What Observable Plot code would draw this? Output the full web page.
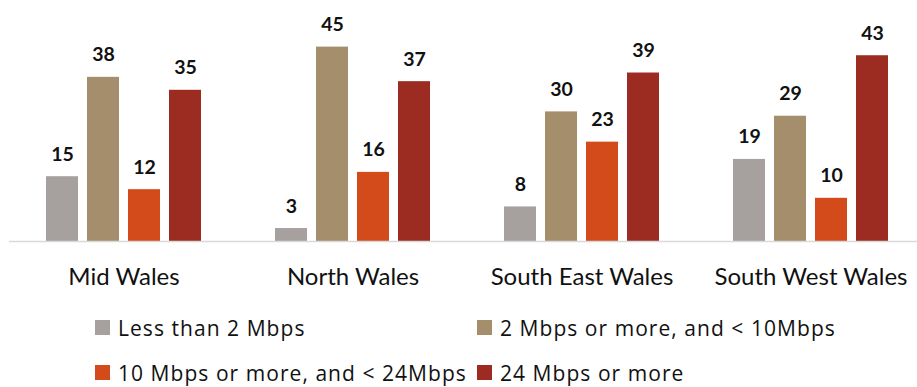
<!DOCTYPE html>
<html>
<head>
<meta charset="utf-8">
<script src="https://cdn.jsdelivr.net/npm/d3@7"></script>
<script src="https://cdn.jsdelivr.net/npm/@observablehq/plot@0.6"></script>
<style>
  body { margin: 0; background: #fff; font-family: Lato, sans-serif; }
  #chart { position: relative; width: 917px; height: 387px; }
  .legend { position: absolute; left: 0; top: 0; width: 917px; height: 387px; pointer-events: none; }
  .item { position: absolute; display: flex; align-items: center; font-family: "Open Sans", sans-serif; font-size: 21px; letter-spacing: 1.05px; color: #111; white-space: nowrap; }
  .sw { width: 15px; height: 15px; margin-right: 8px; flex: none; }
</style>
</head>
<body>
<div id="chart"></div>
<script>
const regions = ["Mid Wales", "North Wales", "South East Wales", "South West Wales"];
const series = ["Less than 2 Mbps", "2 Mbps or more, and < 10Mbps", "10 Mbps or more, and < 24Mbps", "24 Mbps or more"];
const colors = ["#a6a19f", "#a48e6b", "#d34b1a", "#9c2b21"];
const lessThan2 = [15, 3, 8, 19];
const from2to10 = [38, 45, 30, 29];
const from10to24 = [12, 16, 23, 10];
const over24 = [35, 37, 39, 43];

const values = [lessThan2, from2to10, from10to24, over24];
const data = [];
regions.forEach((r, i) => series.forEach((s, j) => data.push({region: r, series: s, value: values[j][i]})));

const chart = Plot.plot({
  width: 917,
  height: 295,
  marginLeft: 8,
  marginRight: -9,
  marginTop: 25,
  marginBottom: 54,
  style: {fontFamily: "Lato, sans-serif", background: "#fff"},
  fx: {domain: regions, padding: 0, label: null},
  x: {domain: series, paddingInner: 0.21, paddingOuter: 0.853, axis: null},
  y: {domain: [0, 50], axis: null},
  color: {domain: series, range: colors},
  marks: [
    Plot.barY(data, {fx: "region", x: "series", y: "value", fill: "series"}),
    Plot.text(data, {fx: "region", x: "series", y: "value", text: d => String(d.value), lineAnchor: "bottom", dy: -16, fontSize: 19.5, fontWeight: "bold", fill: "#111"}),
    Plot.ruleY([0], {stroke: "#d9d9d9", strokeWidth: 1.5}),
    Plot.axisFx({anchor: "bottom", tickSize: 0, tickPadding: 26, fontSize: 24, label: null, fill: "#111"})
  ]
});
const el = document.getElementById("chart");
el.appendChild(chart);

const legendPos = [[95, 327.5], [477, 327.5], [95, 372.5], [477, 372.5]];
const leg = document.createElement("div");
leg.className = "legend";
series.forEach((s, i) => {
  const it = document.createElement("div");
  it.className = "item";
  it.style.left = legendPos[i][0] + "px";
  it.style.top = (legendPos[i][1] - 15) + "px";
  it.style.height = "30px";
  const sw = document.createElement("span");
  sw.className = "sw";
  sw.style.background = colors[i];
  it.appendChild(sw);
  const t = document.createElement("span");
  t.textContent = s;
  it.appendChild(t);
  leg.appendChild(it);
});
el.appendChild(leg);
</script>
</body>
</html>
